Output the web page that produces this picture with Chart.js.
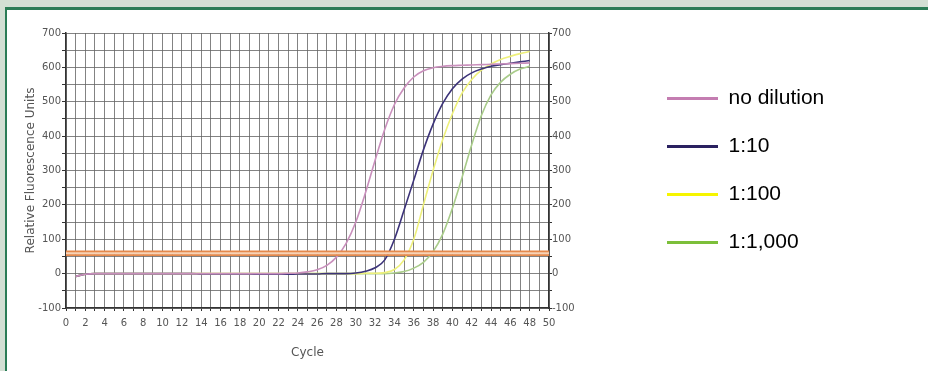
<!DOCTYPE html>
<html>
<head>
<meta charset="utf-8">
<script src="https://cdn.jsdelivr.net/npm/chart.js@4.4.0/dist/chart.umd.min.js"></script>
<style>
html, body { margin: 0; padding: 0; }
body { width: 928px; height: 371px; background: #d3dfd4; position: relative; overflow: hidden; }
#panel { position: absolute; left: 5px; top: 7px; width: 921px; height: 361px; background: #ffffff;
         border-top: 3px solid #2b7c56; border-left: 2px solid #2b7c56; }
#box { position: absolute; left: 0; top: 0; width: 921px; height: 361px; }
</style>
</head>
<body>
<div id="panel">
    <div id="box"><canvas id="pcrChart"></canvas></div>
</div>
<script>
// ======================================================
// DATA
// ======================================================

const cycles = [
    1, 2, 3, 4, 5, 6, 7, 8, 9, 10, 11, 12, 13, 14, 15, 16,
    17, 18, 19, 20, 21, 22, 23, 24, 25, 26, 27, 28, 29, 30, 31, 32,
    33, 34, 35, 36, 37, 38, 39, 40, 41, 42, 43, 44, 45, 46, 47, 48
];

const noDilution = [
    -8, -2, 0, 0, 0, 0, 0, 0, 0, 0, 0, 0, 0, 0, 0, 0,
    0, 0, 0, 0, 0, 0, 1, 2, 5, 11, 24, 48, 88, 150, 235, 330,
    420, 492, 540, 572, 590, 599, 603, 605, 606, 607, 608, 609, 610, 611, 612, 613
];

const dilution10 = [
    -8, -2, 0, 0, 0, 0, 0, 0, 0, 0, 0, 0, 0, -1, -1, -1,
    -1, -1, -1, -2, -2, -2, -2, -1, -1, -1, 0, 0, 0, 2, 7, 17,
    40, 100, 185, 272, 360, 435, 495, 538, 566, 584, 595, 603, 608, 612, 616, 620
];

const dilution100 = [
    -8, -2, 0, 0, 0, 0, 0, 0, 0, 0, 0, 0, 0, 0, 0, 0,
    0, 0, 0, 0, 0, 0, 0, 0, 0, 0, 0, 0, 0, 0, 1, 1,
    3, 12, 40, 100, 200, 300, 390, 465, 525, 565, 592, 610, 623, 632, 640, 646
];

const dilution1000 = [
    -8, -2, 0, 0, 0, 0, 0, 0, 0, 0, 0, 0, 0, 0, 0, 0,
    0, 0, 0, 0, 0, 0, 0, 0, 0, 0, 0, 0, 0, 0, 0, 0,
    0, 2, 6, 16, 33, 64, 115, 190, 280, 375, 460, 520, 557, 580, 595, 603
];

const seriesLabels = ["no dilution", "1:10", "1:100", "1:1,000"];

const thresholdUpper = 65;
const thresholdLower = 54;

const xRange = [0, 50];
const yRange = [-100, 700];

// ======================================================
// STYLE
// ======================================================

const lineColors = ["#c98fbc", "#3c3379", "#eef07a", "#a9cc8a"];
const legendColors = ["#c47db1", "#2a2160", "#f6f500", "#7cbf3a"];

const gridColor = "rgba(100,100,100,0.8)";
const axisColor = "#333333";
const tickText = "#555555";

Chart.defaults.font.family = "'DejaVu Sans', sans-serif";

// ======================================================
// DATASETS
// ======================================================

function toPoints(values) {
    return values.map((v, i) => ({ x: cycles[i], y: v }));
}

function thresholdLine(level) {
    return {
        label: "threshold",
        data: [{ x: xRange[0], y: level }, { x: xRange[1], y: level }],
        borderColor: "#e5894c",
        borderWidth: 1.8,
        pointRadius: 0,
        order: 0
    };
}

const seriesValues = [noDilution, dilution10, dilution100, dilution1000];

const datasets = [
    thresholdLine(thresholdUpper),
    thresholdLine(thresholdLower),
    {
        label: "band",
        data: [
            { x: xRange[0], y: (thresholdUpper + thresholdLower) / 2 },
            { x: xRange[1], y: (thresholdUpper + thresholdLower) / 2 }
        ],
        borderColor: "#f7d3b6",
        borderWidth: 3,
        pointRadius: 0,
        order: 0
    }
];

seriesValues.forEach((values, i) => {
    datasets.push({
        label: seriesLabels[i],
        data: toPoints(values),
        borderColor: lineColors[i],
        borderWidth: 1.6,
        pointRadius: 0,
        cubicInterpolationMode: "monotone",
        order: 1
    });
});

// ======================================================
// CHART
// ======================================================

const yTickCallback = function(value) {
    return value % 100 === 0 ? String(value) : "";
};

new Chart(document.getElementById("pcrChart"), {

    type: "line",

    data: { datasets: datasets },

    options: {

        responsive: true,
        maintainAspectRatio: false,
        animation: false,

        layout: {
            padding: { top: 23, right: 98, bottom: 0, left: 0 }
        },

        plugins: {

            tooltip: { enabled: false },

            legend: {
                position: "right",
                align: "center",
                fullSize: false,
                maxWidth: 190,
                labels: {
                    usePointStyle: true,
                    pointStyleWidth: 51,
                    padding: 27,
                    color: "#111111",
                    font: { family: "'Liberation Sans', Arial, sans-serif", size: 21 },
                    generateLabels: function() {
                        return seriesLabels.map((text, i) => ({
                            text: text,
                            strokeStyle: legendColors[i],
                            fillStyle: legendColors[i],
                            lineWidth: 3,
                            pointStyle: "line",
                            hidden: false,
                            datasetIndex: i + 3
                        }));
                    }
                }
            }

        },

        scales: {

            x: {
                type: "linear",
                min: xRange[0],
                max: xRange[1],
                afterFit: function(axis) { axis.height = 63; },
                ticks: {
                    stepSize: 1,
                    autoSkip: false,
                    maxRotation: 0,
                    padding: 6,
                    color: tickText,
                    font: { size: 10 },
                    callback: function(value) { return value % 2 === 0 ? String(value) : ""; }
                },
                grid: { color: gridColor, tickColor: axisColor, tickLength: 3 },
                border: { color: axisColor, width: 1.5 },
                title: {
                    display: true,
                    text: "Cycle",
                    color: tickText,
                    font: { size: 12 },
                    padding: { top: 0, bottom: 11 }
                }
            },

            y: {
                position: "left",
                min: yRange[0],
                max: yRange[1],
                afterFit: function(axis) { axis.width = 59; },
                ticks: {
                    stepSize: 50,
                    padding: 1,
                    color: tickText,
                    font: { size: 10 },
                    callback: yTickCallback
                },
                grid: { color: gridColor, tickColor: axisColor, tickLength: 4 },
                border: { color: axisColor, width: 1.5 },
                title: {
                    display: true,
                    text: "Relative Fluorescence Units",
                    color: tickText,
                    font: { size: 12 },
                    padding: { top: 17, bottom: 0 }
                }
            },

            yRight: {
                position: "right",
                min: yRange[0],
                max: yRange[1],
                afterFit: function(axis) { axis.width = 91; },
                ticks: {
                    stepSize: 50,
                    padding: 0,
                    color: tickText,
                    font: { size: 10 },
                    callback: yTickCallback
                },
                grid: { drawOnChartArea: false, tickColor: axisColor, tickLength: 3 },
                border: { color: axisColor, width: 1.5 }
            }

        }

    }

});
</script>
</body>
</html>
